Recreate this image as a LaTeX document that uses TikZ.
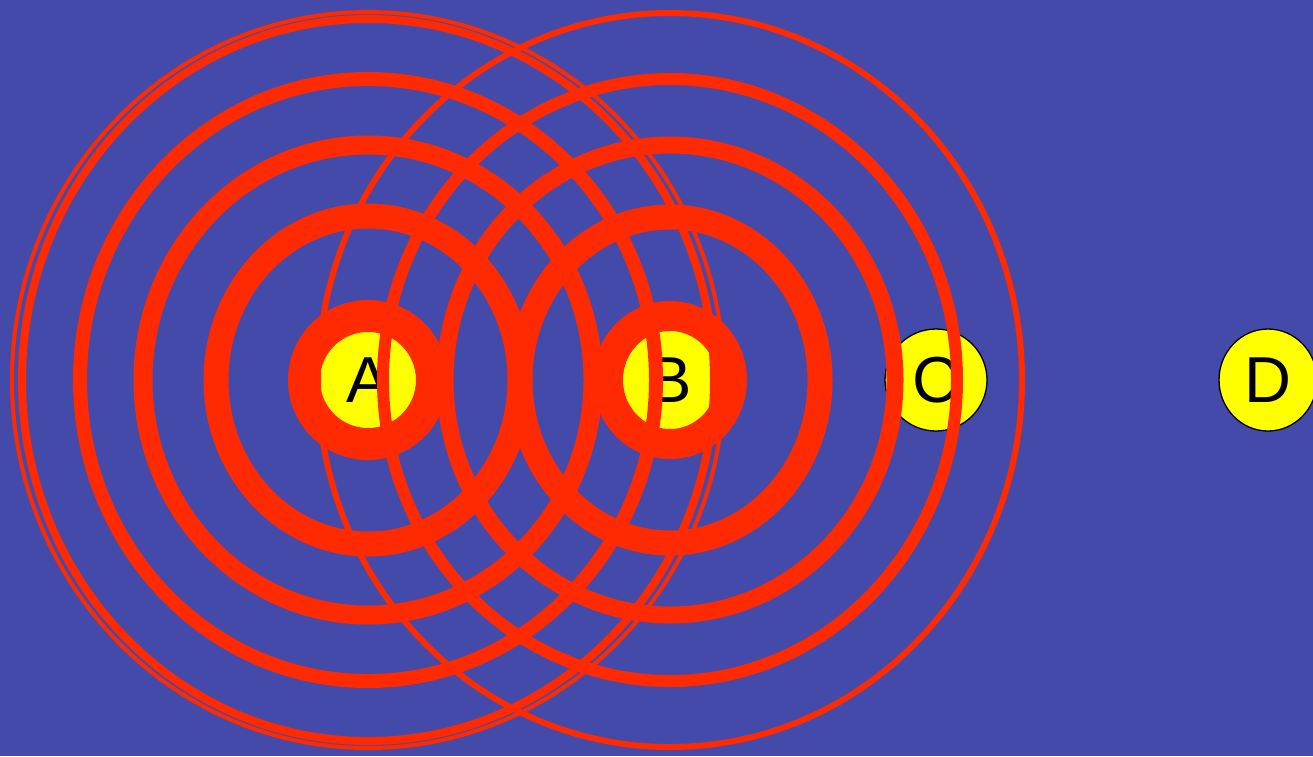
\documentclass[tikz,border=0pt]{standalone}
\usepackage{fontspec}
\setmainfont{Liberation Sans}
\usetikzlibrary{shapes.geometric}
\definecolor{bgblue}{HTML}{444AAA}
\definecolor{ringred}{HTML}{FF2A00}
\definecolor{dotyellow}{HTML}{FFFF00}
\tikzset{
  station/.style={ellipse, draw=black, line width=1.3pt, fill=dotyellow, inner sep=0pt,
    minimum width=98pt, minimum height=102pt, font=\fontsize{65}{78}\selectfont},
  ring/.style={draw=ringred}
}
\begin{document}
\begin{tikzpicture}[x=1pt,y=-1pt]
\useasboundingbox (0,0) rectangle (1313,756);
\clip (0,0) rectangle (1313,756);
\fill[bgblue] (0,0) rectangle (1313,756);
% stations
\node[station] (A) at (368,380) {A};
\node[station] (B) at (670,380) {B};
\node[station, minimum width=102pt] (C) at (936,380) {C};
\node[station] (D) at (1268,380) {D};
% rings around A
\draw[ring, line width=32pt] (A.center) ellipse [x radius=64, y radius=64];
\draw[ring, line width=25pt] (A.center) ellipse [x radius=152, y radius=164];
\draw[ring, line width=19pt] (A.center) ellipse [x radius=225, y radius=235];
\draw[ring, line width=14pt] (A.center) ellipse [x radius=288, y radius=301];
\draw[ring, line width=8pt]  (A.center) ellipse [x radius=346, y radius=361];
\draw[ring, line width=4pt]  (A.center) ellipse [x radius=356, y radius=368];
% rings around B
\draw[ring, line width=30pt] (B.center) ellipse [x radius=62, y radius=64];
\draw[ring, line width=25pt] (B.center) ellipse [x radius=150, y radius=163];
\draw[ring, line width=17pt] (B.center) ellipse [x radius=225, y radius=235];
\draw[ring, line width=12pt] (B.center) ellipse [x radius=287, y radius=301];
\draw[ring, line width=6pt]  (B.center) ellipse [x radius=352, y radius=367];
\end{tikzpicture}
\end{document}
